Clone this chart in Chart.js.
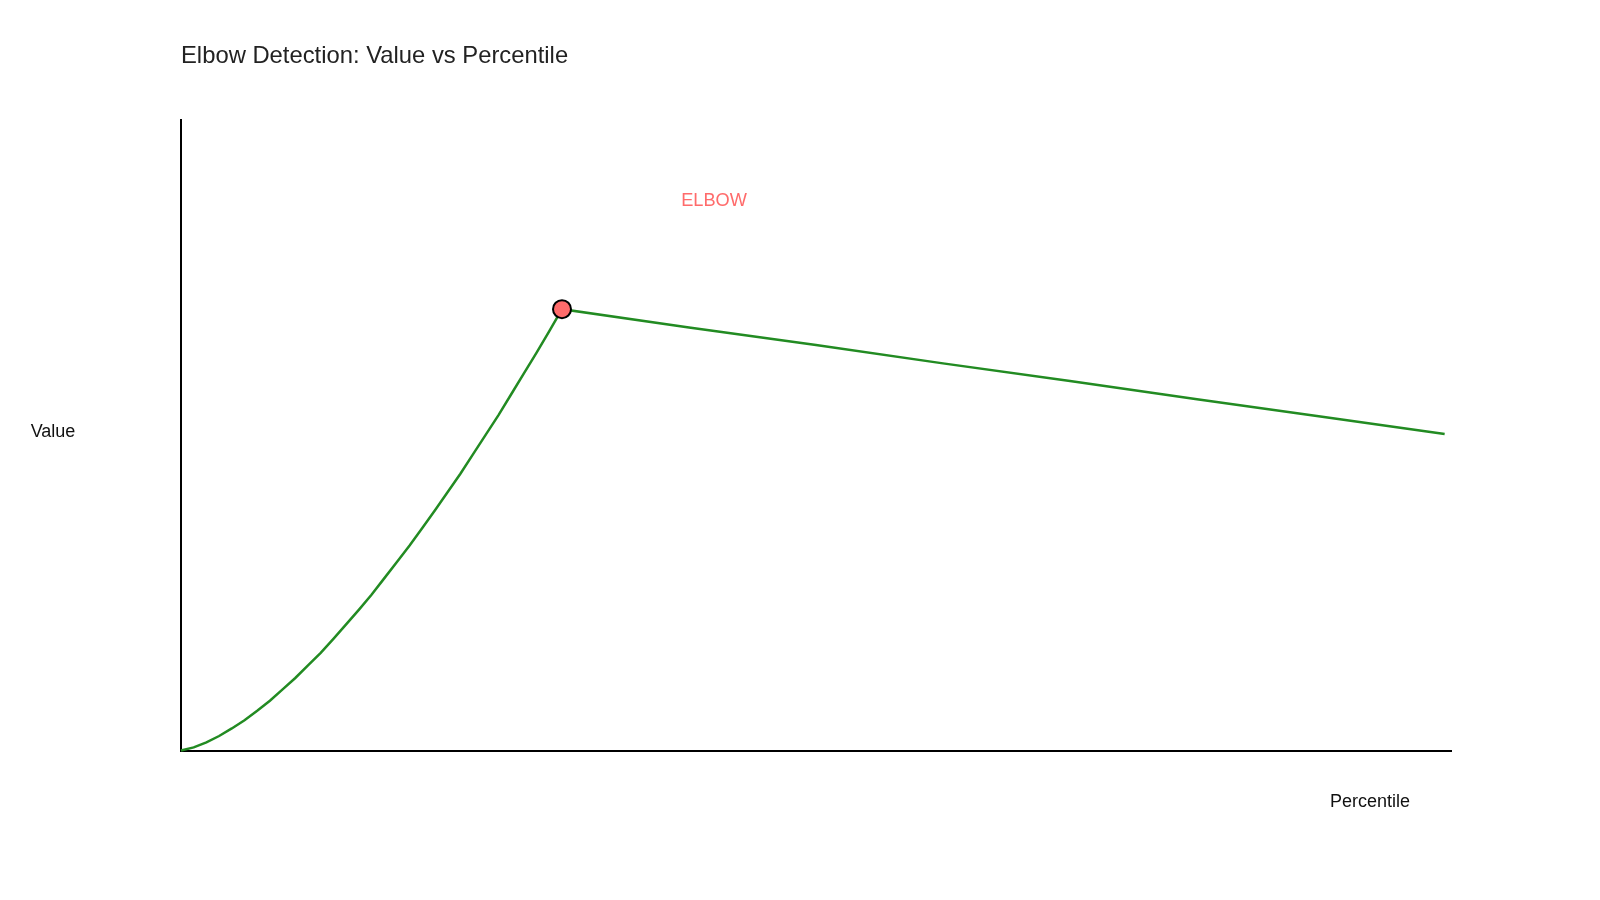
<!DOCTYPE html>
<html>
<head>
<meta charset="utf-8">
<script src="https://cdn.jsdelivr.net/npm/chart.js@4.4.1/dist/chart.umd.min.js"></script>
<style>
html,body{margin:0;padding:0;background:#fff;}
canvas{display:block;}
</style>
</head>
<body>
<canvas id="c" width="1600" height="900"></canvas>
<script>
// Percentile positions and values
const percentiles = [0,1,2,3,4,5,6,7,8,9,10,11,12,13,14,15,16,17,18,19,20,21,22,23,24,25,26,27,28,29,30,40,50,60,70,80,90,99.5];
const values = [0,0.005,0.013,0.023,0.035,0.048,0.063,0.079,0.097,0.115,0.135,0.155,0.177,0.200,0.223,0.247,0.273,0.299,0.325,0.353,0.381,0.410,0.439,0.470,0.501,0.532,0.565,0.598,0.631,0.665,0.700,0.671,0.643,0.614,0.586,0.557,0.529,0.502];
const elbowPercentile = [30];
const elbowValue = [0.700];
const xRange = [0, 100];
const yRange = [0, 1];
const titleText = "Elbow Detection: Value vs Percentile";
const xLabel = "Percentile";
const yLabel = "Value";
const elbowLabel = "ELBOW";

const FONT = '"Liberation Sans", Arial, Helvetica, sans-serif';

const textPlugin = {
  id: 'texts',
  afterDraw(chart) {
    const ctx = chart.ctx;
    const a = chart.chartArea;
    const xs = chart.scales.x, ys = chart.scales.y;
    ctx.save();
    ctx.textBaseline = 'alphabetic';
    // title
    ctx.fillStyle = '#222';
    ctx.font = '23.8px ' + FONT;
    ctx.textAlign = 'left';
    ctx.fillText(titleText, a.left, 62.5);
    // axis labels
    ctx.fillStyle = '#111';
    ctx.font = '18px ' + FONT;
    ctx.textAlign = 'center';
    ctx.fillText(yLabel, 53, (a.top + a.bottom) / 2 + 1.5);
    ctx.fillText(xLabel, a.right - 81, a.bottom + 56);
    // elbow label
    const ex = xs.getPixelForValue(elbowPercentile[0]);
    const ey = ys.getPixelForValue(elbowValue[0]);
    ctx.fillStyle = '#ff6b6b';
    ctx.font = '18.2px ' + FONT;
    ctx.fillText(elbowLabel, ex + 152, ey - 103.5);
    ctx.restore();
  }
};

new Chart(document.getElementById('c'), {
  type: 'scatter',
  data: {
    datasets: [
      {
        label: 'elbow',
        data: elbowPercentile.map((p, i) => ({x: p, y: elbowValue[i]})),
        backgroundColor: '#ff6b6b',
        borderColor: '#000',
        borderWidth: 2,
        pointRadius: 9,
        order: 0
      },
      {
        label: 'curve',
        data: percentiles.map((p, i) => ({x: p, y: values[i]})),
        showLine: true,
        borderColor: '#228B22',
        borderWidth: 2.5,
        pointRadius: 0,
        tension: 0,
        fill: false,
        clip: false,
        order: 1
      }
    ]
  },
  options: {
    responsive: false,
    devicePixelRatio: 1,
    animation: false,
    layout: { padding: { left: 181, right: 149, top: 120, bottom: 149.5 } },
    plugins: {
      legend: { display: false },
      title: { display: false },
      tooltip: { enabled: false }
    },
    scales: {
      x: {
        type: 'linear',
        min: xRange[0], max: xRange[1],
        ticks: { display: false },
        grid: { display: false, drawTicks: false },
        border: { display: true, color: '#000', width: 2 }
      },
      y: {
        type: 'linear',
        min: yRange[0], max: yRange[1],
        ticks: { display: false },
        grid: { display: false, drawTicks: false },
        border: { display: true, color: '#000', width: 2 }
      }
    }
  },
  plugins: [textPlugin]
});
</script>
</body>
</html>
